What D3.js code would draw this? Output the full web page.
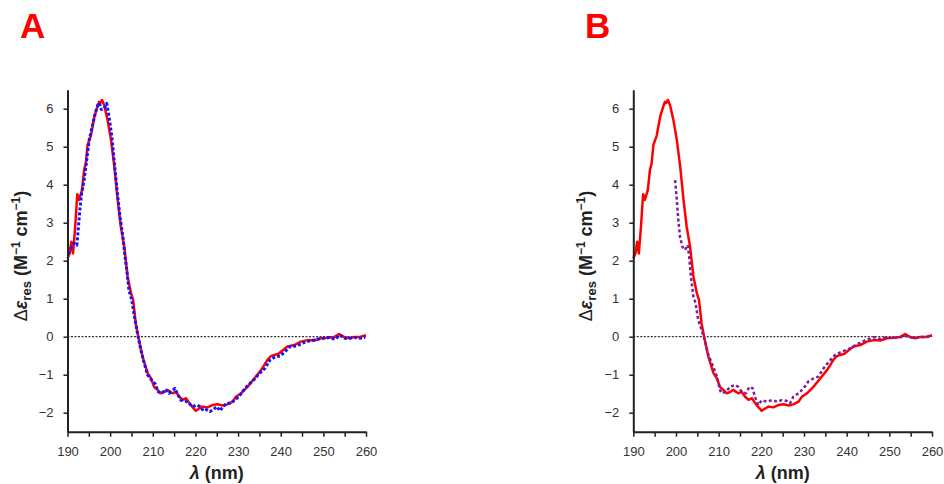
<!DOCTYPE html>
<html><head><meta http-equiv="Content-Type" content="text/html; charset=utf-8">
<script src="https://d3js.org/d3.v7.min.js"></script>
<style>
  body { margin: 0; background: #fff; }
  text { font-family: "Liberation Sans", Arial, sans-serif; }
</style>
</head>
<body>
<div class="chart"></div>
<script type="text/javascript">

var width = 944;
var height = 484;

// ------------------ DATA -----------------------------------

var xTicks = [190, 200, 210, 220, 230, 240, 250, 260];
var yTicks = [-2, -1, 0, 1, 2, 3, 4, 5, 6];

// red (solid) - same curve in both panels
var redWl  = [190.0,190.5,190.9,191.3,191.8,192.3,192.7,193.4,193.9,194.3,194.7,195.5,196.3,197.0,197.4,197.7,198.1,198.6,199.4,200.2,
              201.0,201.7,202.5,203.3,204.1,204.9,205.4,206.0,206.6,207.6,208.8,209.6,210.3,211.1,211.9,212.6,213.4,214.6,215.4,216.2,
              217.0,217.8,218.9,220.1,220.9,221.7,222.8,224.0,225.2,226.4,227.5,228.7,229.5,230.7,232.2,233.8,235.4,236.9,237.6,238.5,
              239.5,240.1,241.6,243.2,244.7,246.3,247.9,249.4,251.0,252.5,253.7,254.9,256.1,257.2,258.4,260.0];
var redVal = [2.06,2.19,2.50,2.19,2.90,3.75,3.60,3.86,4.39,4.56,5.04,5.30,5.79,6.05,6.18,6.15,6.23,6.10,5.70,5.18,
              4.47,3.68,2.90,2.37,1.58,1.14,0.97,0.35,0.00,-0.53,-0.96,-1.10,-1.32,-1.40,-1.49,-1.46,-1.40,-1.49,-1.45,-1.58,
              -1.66,-1.62,-1.80,-1.95,-1.89,-1.84,-1.86,-1.80,-1.78,-1.81,-1.78,-1.71,-1.58,-1.49,-1.32,-1.10,-0.88,-0.61,-0.52,-0.48,
              -0.45,-0.39,-0.26,-0.22,-0.13,-0.09,-0.10,-0.04,-0.03,-0.01,0.07,-0.01,-0.04,-0.01,-0.01,0.04];

// blue (dotted) - panel A
var blueWl  = [190.2,191.0,191.5,192.2,192.5,192.9,193.3,193.9,194.5,195.1,195.8,196.5,197.1,197.5,197.9,198.6,199.2,199.8,200.4,201.0,
               201.7,202.3,203.0,203.5,203.9,204.4,205.05,205.7,206.5,207.2,208.0,208.8,209.7,210.5,211.3,212.1,213.0,213.8,214.6,215.2,
               215.8,216.6,217.6,218.5,219.3,220.3,221.1,221.9,222.6,223.4,224.2,225.0,225.7,226.5,227.3,228.1,229.3,230.5,231.6,232.8,
               234.0,235.1,236.3,237.5,238.7,239.9,241.0,242.2,243.8,245.3,246.8,248.4,250.0,251.5,252.7,253.9,255.0,256.2,257.4,258.6,259.8];
var blueVal = [2.19,2.37,2.46,2.41,2.81,3.33,3.77,4.12,4.65,5.18,5.53,5.88,6.10,6.15,5.98,6.00,6.14,5.75,5.26,4.56,
               3.77,3.16,2.63,2.10,1.76,1.23,0.97,0.53,0.04,-0.35,-0.70,-1.01,-1.14,-1.23,-1.45,-1.49,-1.39,-1.49,-1.42,-1.36,
               -1.51,-1.67,-1.69,-1.75,-1.84,-1.80,-1.84,-1.95,-1.92,-1.97,-1.92,-1.84,-1.95,-1.84,-1.75,-1.75,-1.67,-1.53,-1.36,-1.23,
               -1.10,-0.96,-0.83,-0.61,-0.53,-0.51,-0.39,-0.26,-0.24,-0.16,-0.11,-0.07,-0.04,-0.02,-0.07,0.04,-0.04,-0.04,-0.02,-0.04,-0.02];

// purple (dotted) - panel B
var purpleWl  = [199.8,200.2,200.55,200.95,201.5,202.1,202.75,203.1,203.5,204.1,204.6,205.2,205.9,206.6,207.5,208.4,209.6,210.3,210.7,211.7,
                 212.7,213.85,214.6,215.4,216.4,217.2,218.0,218.5,219.3,220.1,221.3,222.5,223.7,224.8,226.0,226.75,227.5,228.7,229.9,231.0,
                 232.2,233.4,234.6,235.8,237.3,238.9,240.8,242.4,244.3,246.3,247.9,249.4,251.0,252.5,254.1,255.7,257.2,258.8,260.0];
var purpleVal = [4.12,3.60,3.07,2.63,2.37,2.28,2.41,2.10,1.58,1.05,0.88,0.44,0.22,-0.04,-0.45,-0.70,-1.05,-1.40,-1.49,-1.45,
                 -1.32,-1.27,-1.32,-1.45,-1.49,-1.32,-1.36,-1.58,-1.80,-1.67,-1.71,-1.67,-1.71,-1.67,-1.69,-1.75,-1.58,-1.49,-1.36,-1.18,
                 -1.10,-1.05,-0.83,-0.66,-0.48,-0.39,-0.31,-0.20,-0.10,-0.01,-0.06,-0.01,-0.04,-0.01,0.02,-0.04,-0.01,-0.01,0.02];

// ------------------ LAYOUT -----------------------------------

var svg = d3.select("div.chart")
  .append("svg")
  .attr("width", width)
  .attr("height", height);

var yScale = d3.scaleLinear().domain([-2.5, 6.5]).range([431.7, 89.7]);

function pts(wl, val) {
  return wl.map(function(d, i) { return [d, val[i]]; });
}

function drawPanel(left, right, letter, letterX, series) {

  var x = d3.scaleLinear().domain([190, 260]).range([left, right]);
  var g = svg.append("g");

  // panel letter
  g.append("text")
    .attr("x", letterX).attr("y", 38)
    .style("font-size", "35px").style("font-weight", "bold")
    .style("fill", "#ff0000")
    .text(letter);

  // zero line
  g.append("line")
    .attr("x1", x(190)).attr("x2", x(260))
    .attr("y1", yScale(0)).attr("y2", yScale(0))
    .style("stroke", "#000").style("stroke-width", 1)
    .style("stroke-dasharray", "2,1.5");

  var line = d3.line()
    .x(function(d) { return x(d[0]); })
    .y(function(d) { return yScale(d[1]); });

  series.forEach(function(s) {
    g.append("path")
      .datum(pts(s.wl, s.val))
      .attr("d", line)
      .style("fill", "none")
      .style("stroke", s.color)
      .style("stroke-width", s.w)
      .style("stroke-dasharray", s.dash)
      .style("stroke-linejoin", "round");
  });

  // axes
  var xAxis = d3.axisBottom(x)
    .tickValues(d3.range(190, 261, 5))
    .tickSize(5)
    .tickSizeOuter(0)
    .tickFormat(function(d) { return xTicks.indexOf(d) >= 0 ? d : ""; });

  var gx = g.append("g")
    .attr("transform", "translate(0," + yScale(-2.5) + ")")
    .call(xAxis);

  var yAxis = d3.axisLeft(yScale)
    .tickValues(yTicks)
    .tickSize(4)
    .tickSizeOuter(0)
    .tickFormat(function(d) { return d < 0 ? "\u2212" + Math.abs(d) : d; });

  var gy = g.append("g")
    .attr("transform", "translate(" + left + ",0)")
    .call(yAxis);

  [gx, gy].forEach(function(a) {
    a.select(".domain").style("stroke", "#222").style("stroke-width", 2);
    a.selectAll(".tick line").style("stroke", "#222").style("stroke-width", 1.5);
    a.selectAll(".tick text")
      .style("font-family", "'Liberation Sans', Arial, sans-serif")
      .style("font-size", "13px").style("fill", "#333");
  });
  gx.selectAll(".tick text").attr("y", 15);
  gy.selectAll(".tick text").attr("x", -14);

  // x label
  var xl = g.append("text")
    .attr("x", (left + right) / 2).attr("y", 479)
    .attr("text-anchor", "middle")
    .style("font-size", "18px").style("font-weight", "bold").style("fill", "#222");
  xl.append("tspan").style("font-style", "italic").text("\u03bb");
  xl.append("tspan").text(" (nm)");

  // y label
  var yl = g.append("text")
    .attr("transform", "translate(" + (left - 41) + "," + 256 + ")rotate(-90)")
    .attr("text-anchor", "middle")
    .style("font-size", "18px").style("font-weight", "bold").style("fill", "#222");
  yl.append("tspan").style("font-weight", "normal").text("\u0394");
  yl.append("tspan").style("font-style", "italic").text("\u03b5");
  yl.append("tspan").attr("dy", 4).style("font-size", "13px").text("res");
  yl.append("tspan").attr("dy", -4).text(" (M");
  yl.append("tspan").attr("dy", -7).style("font-size", "12px").text("\u22121");
  yl.append("tspan").attr("dy", 7).text(" cm");
  yl.append("tspan").attr("dy", -7).style("font-size", "12px").text("\u22121");
  yl.append("tspan").attr("dy", 7).text(")");
}

drawPanel(67.5, 366, "A", 20, [
  { wl: redWl, val: redVal, color: "#ff0000", w: 2.5, dash: null },
  { wl: blueWl, val: blueVal, color: "#1414ff", w: 3, dash: "3,2" }
]);

drawPanel(633.3, 932, "B", 585, [
  { wl: redWl, val: redVal, color: "#ff0000", w: 2.5, dash: null },
  { wl: purpleWl, val: purpleVal, color: "#7a1f9e", w: 2.5, dash: "3,2.5" }
]);

</script>
</body></html>
